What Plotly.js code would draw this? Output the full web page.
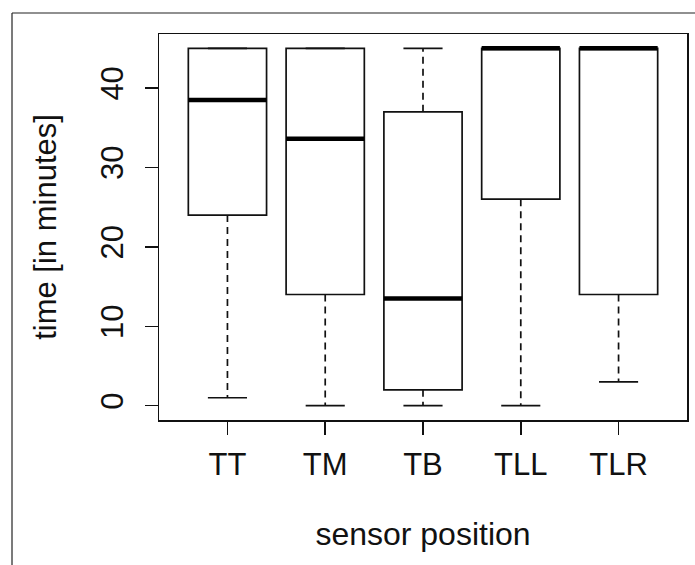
<!DOCTYPE html>
<html>
<head>
<meta charset="utf-8">
<script src="https://cdn.plot.ly/plotly-3.0.1.min.js"></script>
<style>html,body{margin:0;padding:0;background:#fff;}#chart{width:695px;height:565px;}</style>
</head>
<body>
<div id="chart"></div>
<script>
const categories = ['TT', 'TM', 'TB', 'TLL', 'TLR'];
const lowerWhisker = [1, 0, 0, 0, 3];
const q1 = [24, 14, 2, 26, 14];
const median = [38.5, 33.6, 13.5, 45, 45];
const q3 = [45, 45, 37, 45, 45];
const upperWhisker = [45, 45, 45, 45, 45];
const yTicks = [0, 10, 20, 30, 40];

const pos = categories.map((c, i) => i + 1);
const boxW = 0.8, capW = 0.4;

const boxTrace = {
  type: 'box', x: pos, q1: q1, median: median, q3: q3,
  lowerfence: q1, upperfence: q3, width: boxW, whiskerwidth: 0,
  fillcolor: 'rgba(255,255,255,0)', line: {color: '#111', width: 1.7},
  boxpoints: false, hoverinfo: 'skip'
};

const wx = [], wy = [], cx = [], cy = [], mx = [], my = [];
pos.forEach((p, i) => {
  wx.push(p, p, null, p, p, null);
  wy.push(q1[i], lowerWhisker[i], null, q3[i], upperWhisker[i], null);
  cx.push(p - capW / 2, p + capW / 2, null, p - capW / 2, p + capW / 2, null);
  cy.push(lowerWhisker[i], lowerWhisker[i], null, upperWhisker[i], upperWhisker[i], null);
  mx.push(p - boxW / 2, p + boxW / 2, null);
  my.push(median[i], median[i], null);
});

const whiskers = {type: 'scatter', mode: 'lines', x: wx, y: wy,
  line: {color: '#111', width: 1.7, dash: '7px,5px'}, hoverinfo: 'skip'};
const caps = {type: 'scatter', mode: 'lines', x: cx, y: cy,
  line: {color: '#111', width: 1.7}, hoverinfo: 'skip'};
const medians = {type: 'scatter', mode: 'lines', x: mx, y: my,
  line: {color: '#000', width: 4.5}, hoverinfo: 'skip'};

const font = {family: '"Liberation Sans", Arial, sans-serif', size: 31, color: '#111'};
const titleFont = {family: '"Liberation Sans", Arial, sans-serif', size: 32, color: '#111'};

const layout = {
  width: 695, height: 565,
  margin: {l: 159, r: 8, t: 34, b: 145},
  paper_bgcolor: '#fff', plot_bgcolor: '#fff',
  showlegend: false,
  font: font,
  xaxis: {
    range: [0.3, 5.7], tickvals: pos, ticktext: categories,
    ticks: 'outside', ticklen: 13, tickwidth: 1.5, tickcolor: '#111',
    showline: true, mirror: true, linecolor: '#111', linewidth: 1.5,
    showgrid: false, zeroline: false, tickfont: font, ticklabelstandoff: 3,
    title: {text: 'sensor position', font: titleFont, standoff: 42}
  },
  yaxis: {
    range: [-1.8, 46.8], tickvals: yTicks, tickangle: -90,
    ticks: 'outside', ticklen: 13, tickwidth: 1.5, tickcolor: '#111',
    showline: true, mirror: true, linecolor: '#111', linewidth: 1.5,
    showgrid: false, zeroline: false, tickfont: font, ticklabelstandoff: 9,
    title: {text: 'time [in minutes]', font: font, standoff: 29}
  },
  shapes: [
    {type: 'line', xref: 'paper', yref: 'paper', x0: -0.2784, x1: 1.02, y0: 1.0544, y1: 1.0544,
      line: {color: '#222', width: 1.2}},
    {type: 'line', xref: 'paper', yref: 'paper', x0: -0.2784, x1: -0.2784, y0: 1.0544, y1: -0.38,
      line: {color: '#222', width: 1.2}}
  ]
};

Plotly.newPlot('chart', [boxTrace, whiskers, caps, medians], layout, {displayModeBar: false, staticPlot: true});
</script>
</body>
</html>
